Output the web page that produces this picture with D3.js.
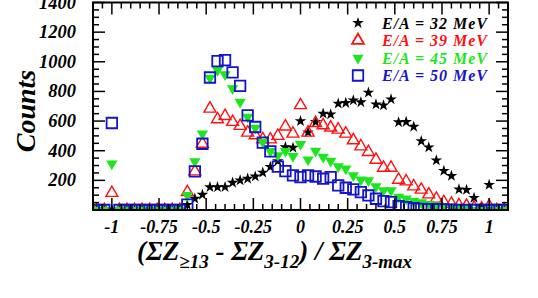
<!DOCTYPE html>
<html>
<head>
<meta charset="utf-8">
<script src="https://cdn.jsdelivr.net/npm/d3@7"></script>
<style type="text/css">
	body { margin:0; background:#fff; }
	text { font-family:"Liberation Serif","Times New Roman",serif; font-weight:bold; font-style:italic; }
</style>
</head>
<body>
<svg id="chart" width="538" height="298"></svg>
<script type="text/javascript">
	// bin centres, step 0.04 from -1.08 to 1.08
	var bins = d3.range(-27, 28).map(function(i){ return +(i*0.04).toFixed(2); });

	// counts per bin (left to right)
	var e32 = [0,0,0,0,0,0,0,0,0,0,0,0,
		35,76,103,154,154,155,184,200,211,226,252,291,330,424,420,
		600,524,594,650,645,718,722,740,727,792,713,706,747,592,594,562,465,423,335,264,230,139,136,82,20,170,0,0];
	var e39 = [0,0,115,0,0,0,0,0,0,0,0,0,
		120,260,447,684,612,634,594,567,522,504,477,476,500,563,515,
		707,522,587,571,556,542,515,470,429,391,339,285,285,204,193,159,137,105,76,53,42,32,28,15,10,25,0,0];
	var e45 = [0,0,312,0,0,0,0,0,0,0,0,0,
		100,328,515,891,943,914,819,729,627,553,458,396,368,396,362,
		443,339,398,357,330,294,278,233,204,199,159,132,132,87,76,60,50,40,30,25,20,15,10,0,0,0,0,0];
	var e50 = [0,0,587,0,0,0,0,0,0,0,0,0,
		36,260,447,894,1004,1011,928,837,639,560,454,396,293,262,233,
		222,233,226,211,222,166,150,139,120,98,76,60,53,26,20,12,8,5,5,4,3,0,0,0,0,0,0,0];

	var series = [
		{label:"E/A = 32 MeV", color:"#000000", values:e32, shape:"star"},
		{label:"E/A = 39 MeV", color:"#ff1010", values:e39, shape:"up"},
		{label:"E/A = 45 MeV", color:"#1ee61e", values:e45, shape:"down"},
		{label:"E/A = 50 MeV", color:"#1414c8", values:e50, shape:"square"}
	];

	var yTicks = [200,400,600,800,1000,1200,1400];
	var xTicks = [-1,-0.75,-0.5,-0.25,0,0.25,0.5,0.75,1];

	var svg = d3.select("#chart"),
	    pL = 93, pR = 508, pT = 2.5, pB = 210;

	var x = d3.scaleLinear().domain([-1.1, 1.1]).range([pL, pR]),
	    y = d3.scaleLinear().domain([0, 1400]).range([pB, pT]);

	svg.append("defs").append("clipPath").attr("id","plotclip")
	  .append("rect").attr("x",pL).attr("y",pT).attr("width",pR-pL).attr("height",pB-pT);

	function symbolFor(s){
		if (s=="star") return d3.symbol().type(d3.symbolStar).size(42)();
		if (s=="up") return d3.symbol().type(d3.symbolTriangle).size(62)();
		if (s=="down") return d3.symbol().type(d3.symbolTriangle).size(55)();
		return d3.symbol().type(d3.symbolSquare).size(110)();
	}

	var plot = svg.append("g").attr("clip-path","url(#plotclip)");
	series.forEach(function(s){
		var path = symbolFor(s.shape);
		var m = plot.append("g").selectAll("path").data(bins).enter().append("path")
		  .attr("d", path)
		  .attr("transform", function(d,i){
			  var t = "translate(" + x(d) + "," + y(s.values[i]) + ")";
			  return s.shape=="down" ? t + " rotate(180)" : t;
		  });
		if (s.shape=="star" || s.shape=="down") m.attr("fill", s.color);
		else m.attr("fill","none").attr("stroke", s.color).attr("stroke-width", s.shape=="square" ? 1.8 : 1.4);
	});

	// frame + ticks on all four sides
	var ax = svg.append("g").attr("stroke","#000");
	ax.append("rect").attr("x",pL).attr("y",pT).attr("width",pR-pL).attr("height",pB-pT)
	  .attr("fill","none").attr("stroke-width",2);

	d3.range(-22, 23).forEach(function(i){
		var v = i*0.05;
		var len = i % 5 == 0 ? 12 : 6;
		ax.append("line").attr("x1",x(v)).attr("x2",x(v)).attr("y1",pB).attr("y2",pB-len).attr("stroke-width",1.5);
		ax.append("line").attr("x1",x(v)).attr("x2",x(v)).attr("y1",pT).attr("y2",pT+len).attr("stroke-width",1.5);
	});
	d3.range(0, 1401, 50).forEach(function(v){
		var len = v % 200 == 0 ? 12 : 6;
		ax.append("line").attr("x1",pL).attr("x2",pL+len).attr("y1",y(v)).attr("y2",y(v)).attr("stroke-width",1.5);
		ax.append("line").attr("x1",pR).attr("x2",pR-len).attr("y1",y(v)).attr("y2",y(v)).attr("stroke-width",1.5);
	});

	svg.append("g").selectAll("text").data(yTicks).enter().append("text")
	  .attr("x", 76).attr("y", function(d){ return y(d) + 6; })
	  .attr("text-anchor","end").attr("font-size",18.5).text(function(d){ return d; });

	svg.append("g").selectAll("text").data(xTicks).enter().append("text")
	  .attr("x", function(d){ return x(d); }).attr("y", 233)
	  .attr("text-anchor","middle").attr("font-size",18).text(function(d){ return d; });

	svg.append("text").attr("transform","translate(35,111) rotate(-90)")
	  .attr("text-anchor","middle").attr("font-size",28).text("Counts");

	var xl = svg.append("text").attr("x",137).attr("y",260).attr("font-size",27);
	xl.append("tspan").text("(ΣZ");
	xl.append("tspan").attr("font-size",19).attr("dy",8).text("≥13");
	xl.append("tspan").attr("dy",-8).text(" - ΣZ");
	xl.append("tspan").attr("font-size",19).attr("dy",8).text("3-12");
	xl.append("tspan").attr("dy",-8).text(") / ΣZ");
	xl.append("tspan").attr("font-size",19).attr("dy",8).text("3-max");

	// legend
	var leg = svg.append("g").selectAll("g").data(series).enter().append("g")
	  .attr("transform", function(d,i){ return "translate(358," + (23 + i*17.5) + ")"; });
	leg.append("path").attr("d", function(d){ return symbolFor(d.shape); })
	  .attr("transform", function(d){ return d.shape=="down" ? "rotate(180)" : null; })
	  .each(function(d){
		  var p = d3.select(this);
		  if (d.shape=="star" || d.shape=="down") p.attr("fill", d.color);
		  else p.attr("fill","none").attr("stroke", d.color).attr("stroke-width", 1.8);
	  });
	leg.append("text").attr("x",24).attr("y",5.5).attr("font-size",16)
	  .attr("textLength",105).attr("lengthAdjust","spacing")
	  .attr("fill", function(d){ return d.color; }).text(function(d){ return d.label; });
</script>
</body>
</html>
